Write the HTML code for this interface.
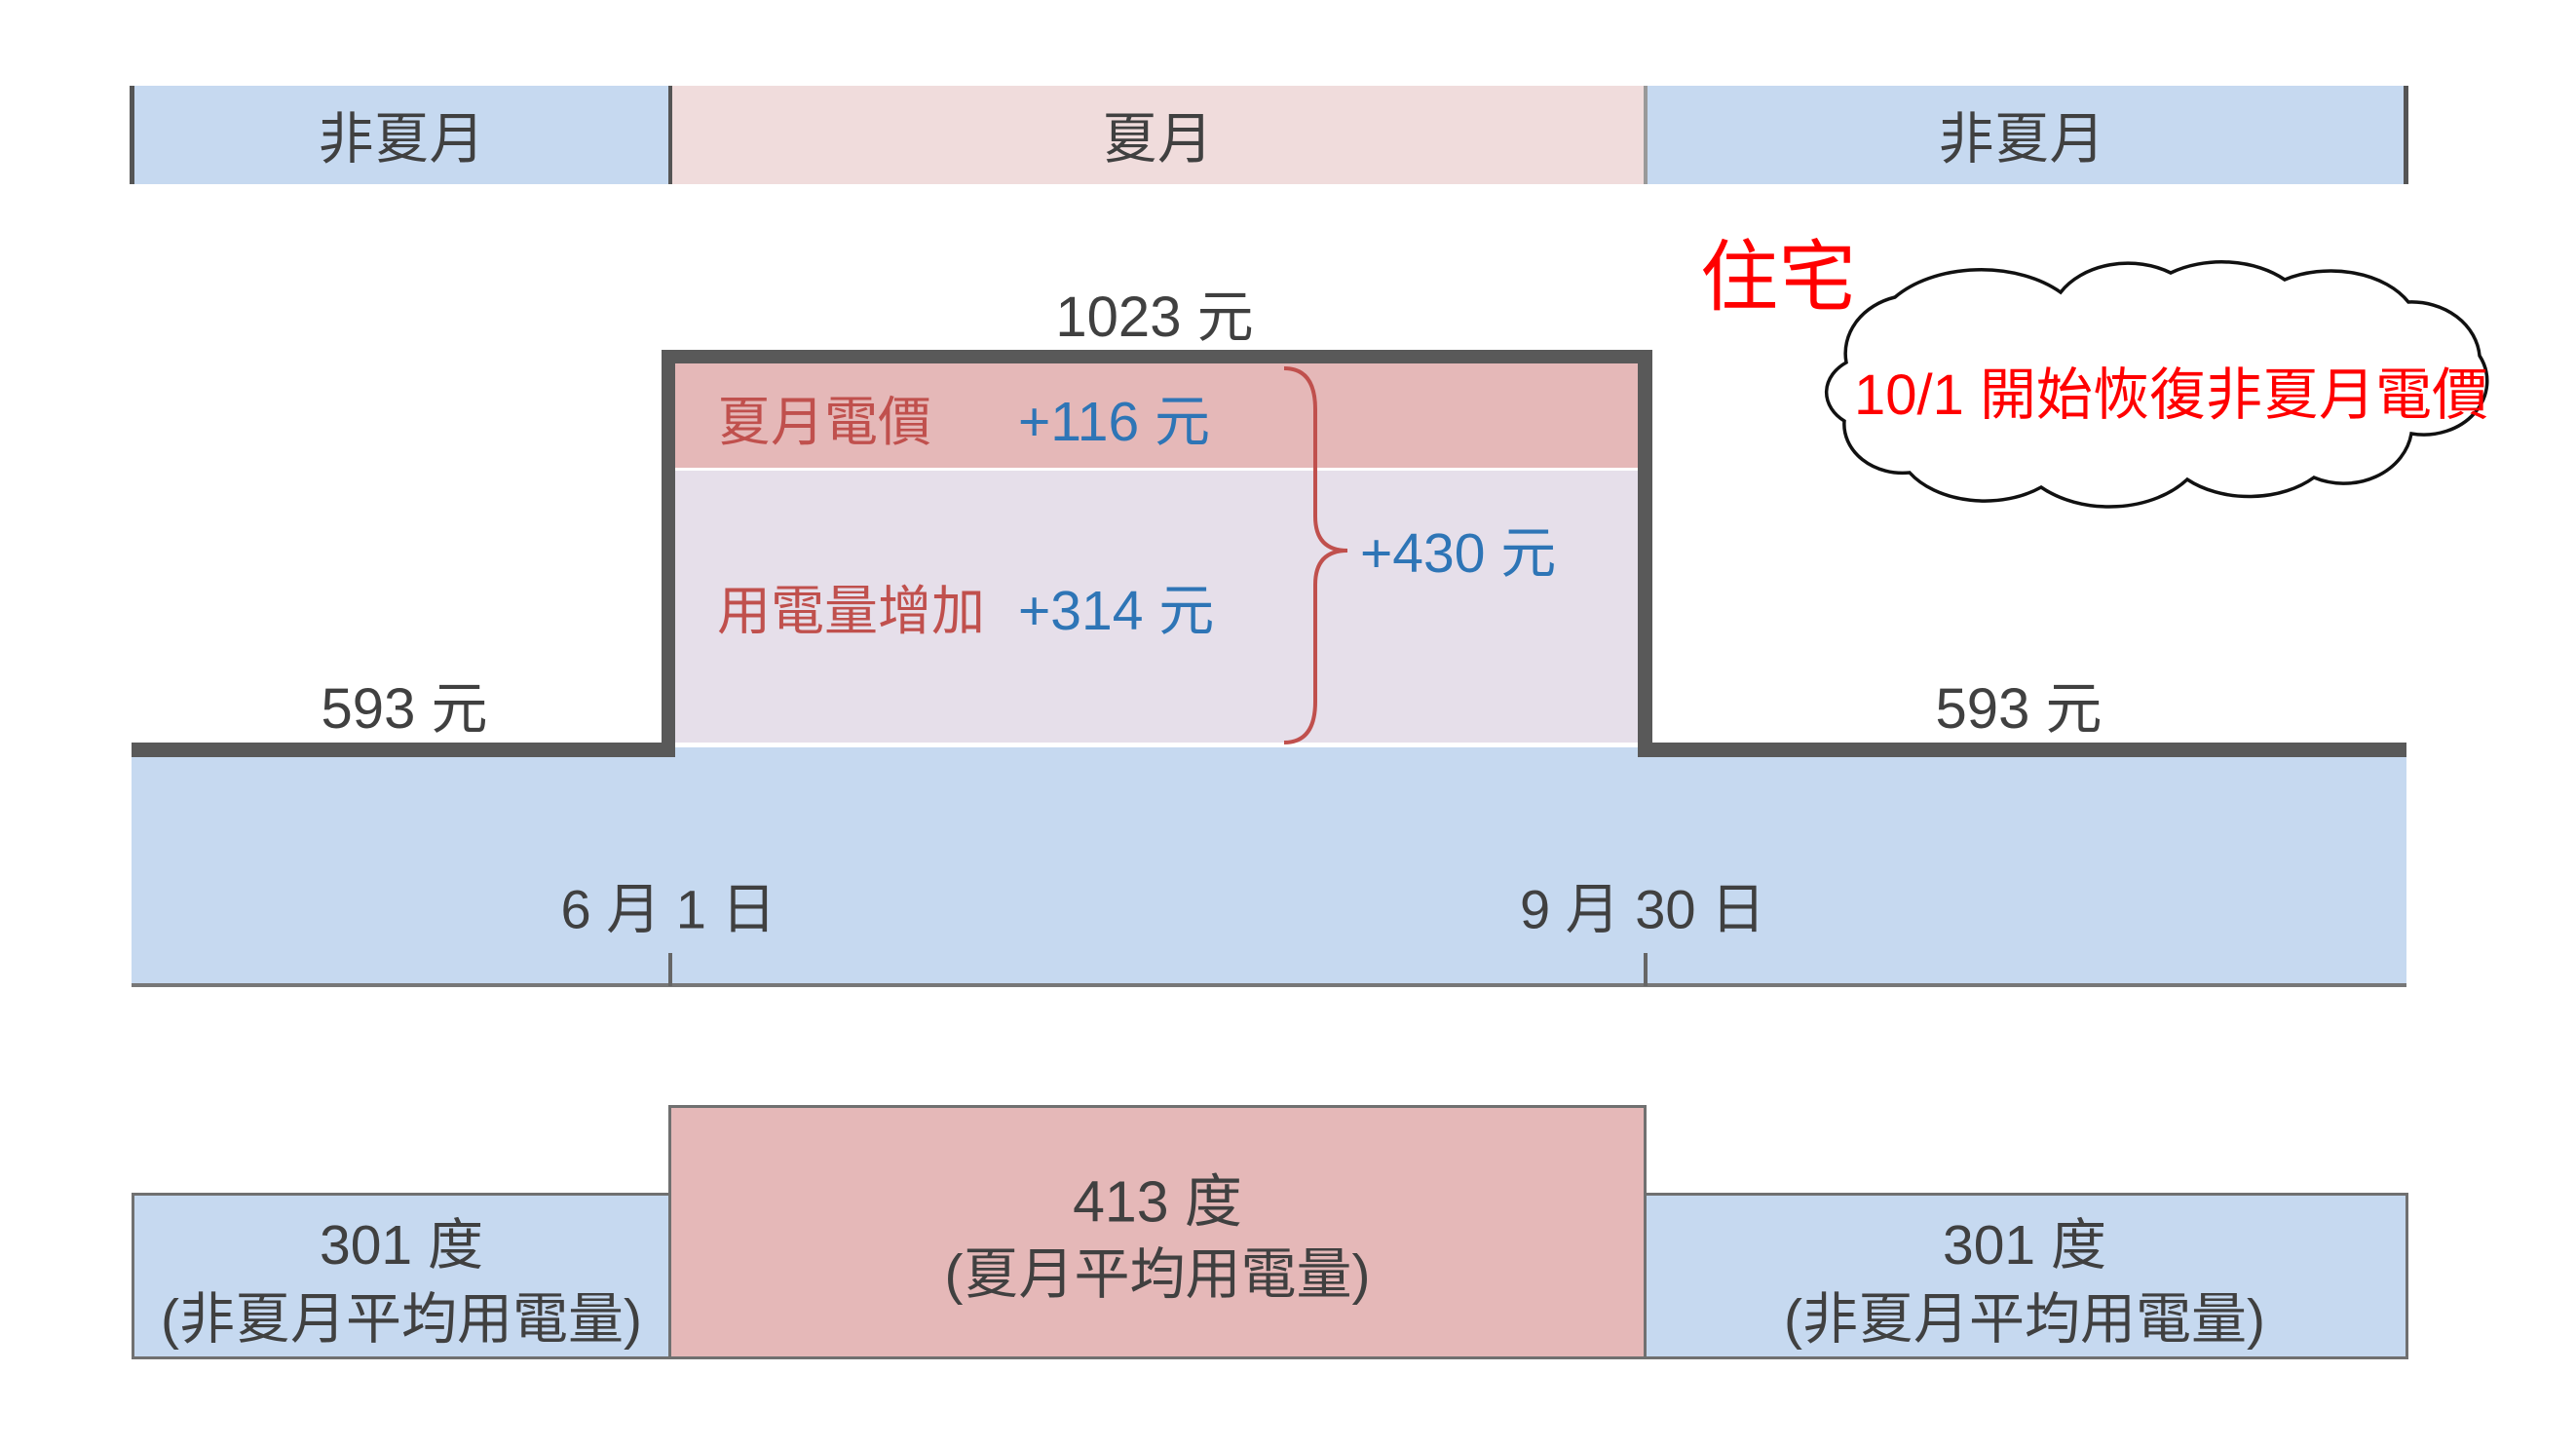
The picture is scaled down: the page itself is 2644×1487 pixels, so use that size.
<!DOCTYPE html>
<html><head><meta charset="utf-8"><style>
html,body{margin:0;padding:0;background:#fff;}
body{width:2644px;height:1487px;position:relative;overflow:hidden;font-family:"Liberation Sans","Noto Sans CJK TC",sans-serif;color:#404040;}
.a{position:absolute;box-sizing:border-box;}
.t{position:absolute;white-space:nowrap;transform:translate(-50%,-50%);}
.tl{position:absolute;white-space:nowrap;transform:translateY(-50%);}
</style></head><body>
<div class="a" style="left:135px;top:88px;width:553px;height:101px;background:#c6d9f0;"></div>
<div class="a" style="left:688px;top:88px;width:1001px;height:101px;background:#f0dcdc;"></div>
<div class="a" style="left:1689px;top:88px;width:781px;height:101px;background:#c6d9f0;"></div>
<div class="a" style="left:133px;top:88px;width:5px;height:101px;background:#555;"></div>
<div class="a" style="left:686px;top:88px;width:4px;height:101px;background:#555;"></div>
<div class="a" style="left:1687px;top:88px;width:4px;height:101px;background:#999;"></div>
<div class="a" style="left:2467px;top:88px;width:5px;height:101px;background:#555;"></div>
<div class="t" style="left:412px;top:138px;font-size:57px;">非夏月</div>
<div class="t" style="left:1188px;top:138px;font-size:57px;">夏月</div>
<div class="t" style="left:2075px;top:138px;font-size:57px;">非夏月</div>

<div class="a" style="left:135px;top:767px;width:2335px;height:245px;background:#c6d9f0;"></div>
<div class="a" style="left:135px;top:1009px;width:2335px;height:4px;background:#777;"></div>
<div class="a" style="left:686px;top:978px;width:4px;height:34px;background:#666;"></div>
<div class="a" style="left:1687px;top:978px;width:4px;height:34px;background:#666;"></div>

<div class="a" style="left:693px;top:373px;width:988px;height:107px;background:#e5b8b8;"></div>
<div class="a" style="left:693px;top:483px;width:988px;height:279px;background:#e6dfea;"></div>

<div class="a" style="left:135px;top:762px;width:558px;height:15px;background:#595959;"></div>
<div class="a" style="left:679px;top:359px;width:14px;height:418px;background:#595959;"></div>
<div class="a" style="left:679px;top:359px;width:1017px;height:14px;background:#595959;"></div>
<div class="a" style="left:1681px;top:359px;width:15px;height:418px;background:#595959;"></div>
<div class="a" style="left:1681px;top:762px;width:789px;height:15px;background:#595959;"></div>

<div class="t" style="left:415px;top:722px;font-size:58px;">593 元</div>
<div class="t" style="left:2072px;top:722px;font-size:58px;">593 元</div>
<div class="t" style="left:1185px;top:320px;font-size:58px;">1023 元</div>
<div class="t" style="left:686px;top:929px;font-size:56px;">6 月 1 日</div>
<div class="t" style="left:1686px;top:929px;font-size:56px;">9 月 30 日</div>

<div class="tl" style="left:736px;top:428px;font-size:55px;color:#c0504d;">夏月電價</div>
<div class="tl" style="left:1045px;top:428px;font-size:57px;color:#2e75b6;">+116 元</div>
<div class="tl" style="left:736px;top:622px;font-size:55px;color:#c0504d;">用電量增加</div>
<div class="tl" style="left:1045px;top:622px;font-size:57px;color:#2e75b6;">+314 元</div>
<div class="tl" style="left:1396px;top:563px;font-size:57px;color:#2e75b6;">+430 元</div>

<svg class="a" style="left:0;top:0;" width="2644" height="1487" viewBox="0 0 2644 1487">
<path d="M1318,378 Q1350,378 1350,420 L1350,530 Q1350,565 1383,565 Q1350,565 1350,600 L1350,720 Q1350,762 1318,762" fill="none" stroke="#c0504d" stroke-width="4"/>
<path d="M1895,372 A70,60 0 0 1 1945,305 A110,70 0 0 1 2115,300 A80,60 0 0 1 2228,280 A90,60 0 0 1 2345,287 A90,60 0 0 1 2472,310 A70,60 0 0 1 2545,365 A65,55 0 0 1 2475,445 A70,60 0 0 1 2375,490 A90,60 0 0 1 2245,492 A100,70 0 0 1 2095,500 A90,60 0 0 1 1960,485 A60,50 0 0 1 1893,432 A50,38 0 0 1 1895,372 Z" fill="#fff" stroke="#111" stroke-width="3.5"/>
</svg>
<div class="tl" style="left:1745px;top:278px;font-size:80px;color:#ff0000;">住宅</div>
<div class="tl" style="left:1903px;top:400px;font-size:58px;color:#ff0000;">10/1 開始恢復非夏月電價</div>

<div class="a" style="left:135px;top:1224px;width:555px;height:171px;background:#c6d9f0;border:3px solid #707070;"></div>
<div class="a" style="left:1687px;top:1224px;width:785px;height:171px;background:#c6d9f0;border:3px solid #707070;"></div>
<div class="a" style="left:686px;top:1134px;width:1004px;height:261px;background:#e5b8b8;border:3px solid #707070;"></div>
<div class="t" style="left:412px;top:1273px;font-size:57px;">301 度</div>
<div class="t" style="left:412px;top:1349px;font-size:57px;">(非夏月平均用電量)</div>
<div class="t" style="left:1188px;top:1228px;font-size:59px;">413 度</div>
<div class="t" style="left:1188px;top:1303px;font-size:57px;">(夏月平均用電量)</div>
<div class="t" style="left:2078px;top:1273px;font-size:57px;">301 度</div>
<div class="t" style="left:2078px;top:1349px;font-size:57px;">(非夏月平均用電量)</div>
</body></html>
